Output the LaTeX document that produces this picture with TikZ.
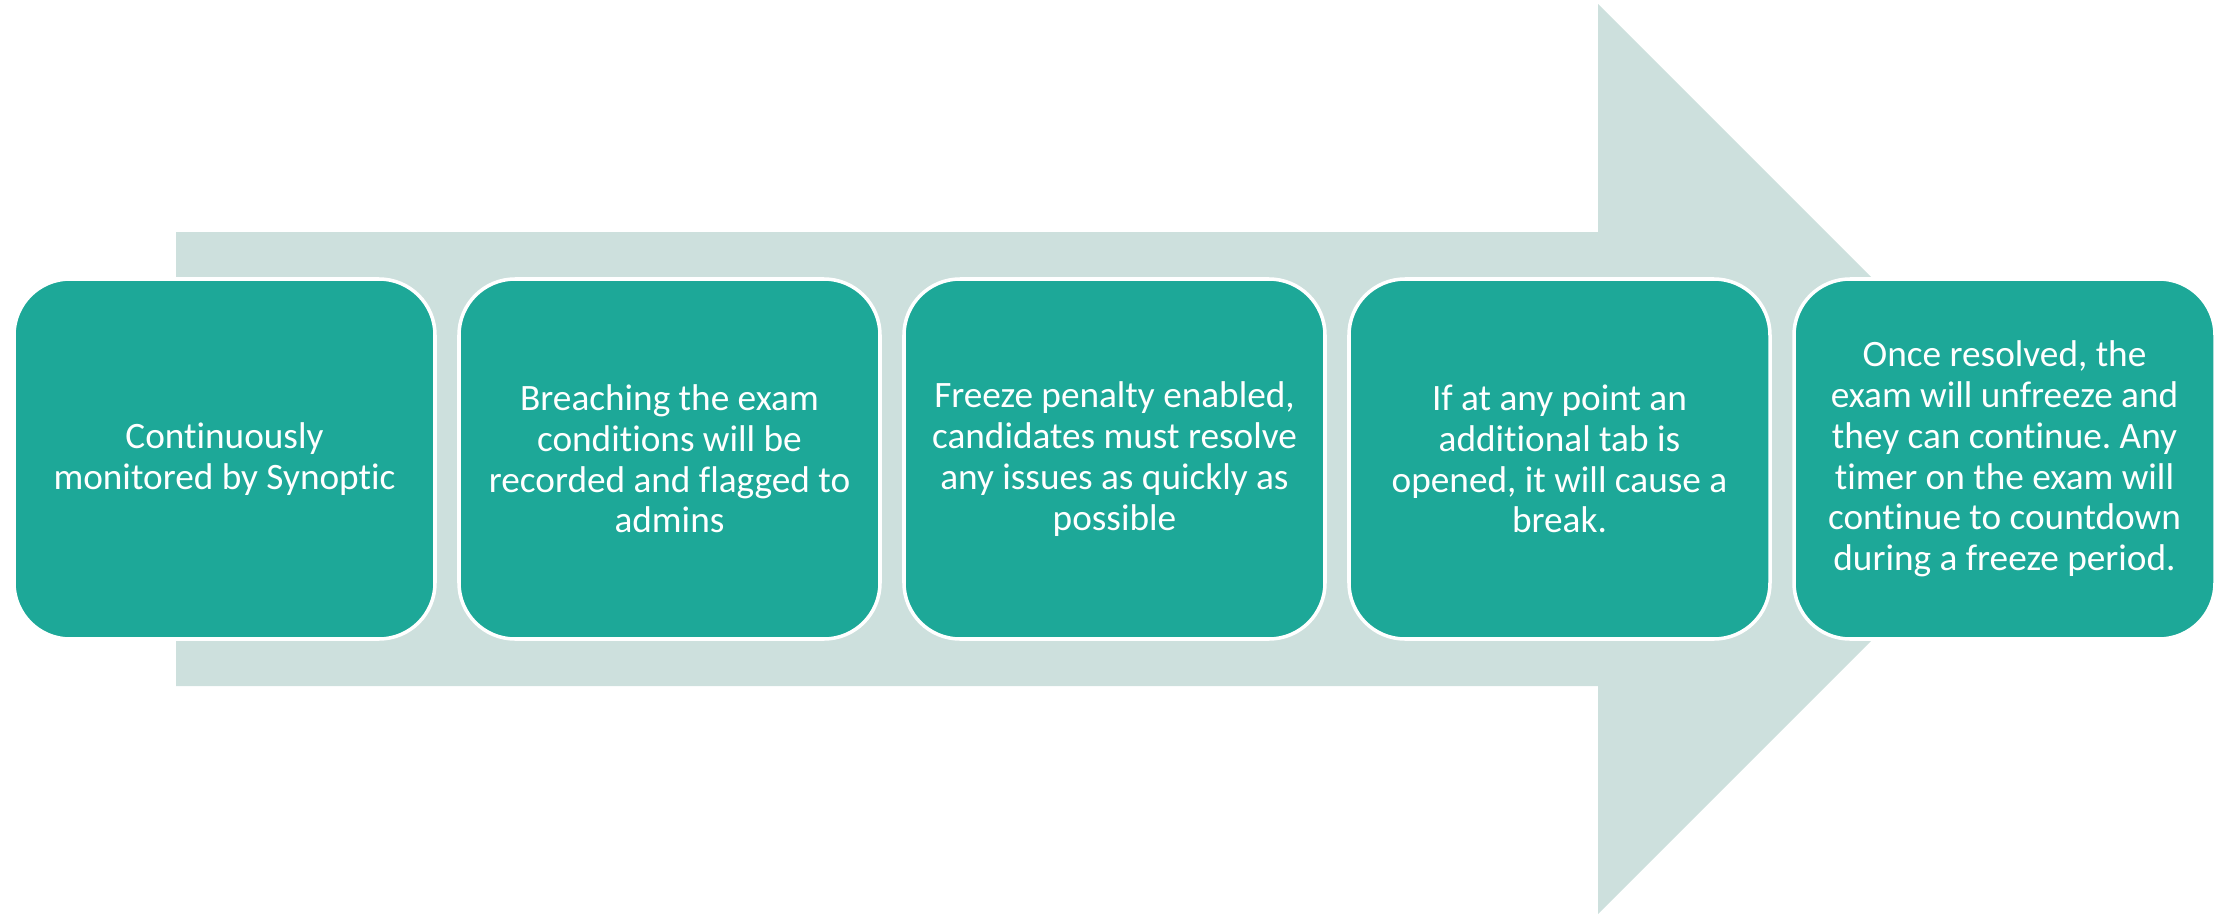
\documentclass[tikz,border=0pt]{standalone}
\usepackage{fontspec}
\setmainfont[Ligatures=NoCommon]{Carlito}
\definecolor{stepteal}{RGB}{29,168,152}
\definecolor{arrowgrey}{RGB}{205,224,221}
\tikzset{
  stepbox/.style={rectangle, rounded corners=0.56cm, fill=stepteal, draw=white,
    line width=1pt, minimum width=4.21cm, minimum height=3.6cm, inner sep=0pt,
    text=white, align=center, font=\fontsize{10.6}{11.6}\selectfont}
}
\frenchspacing

\begin{document}
\begin{tikzpicture}
\useasboundingbox (0,0) rectangle (22.24,9.14);
% big background arrow
\fill [arrowgrey] (1.76,2.28) -- (1.76,6.82) -- (15.98,6.82) -- (15.98,9.10)
  -- (20.53,4.55) -- (15.98,0.00) -- (15.98,2.28) -- cycle;
% steps
\node[stepbox] (monitor) at (2.245,4.55) {Continuously\\monitored by Synoptic};
\node[stepbox] (breach) at (6.695,4.55) {Breaching the exam\\conditions will be\\recorded and flagged to\\admins};
\node[stepbox] (freeze) at (11.145,4.55) {Freeze penalty enabled,\\candidates must resolve\\any issues as quickly as\\possible};
\node[stepbox] (newtab) at (15.595,4.55) {If at any point an\\additional tab is\\opened, it will cause a\\break.};
\node[stepbox] (resolved) at (20.045,4.55) {Once resolved, the\\exam will unfreeze and\\they can continue. Any\\timer on the exam will\\continue to countdown\\during a freeze period.};
\end{tikzpicture}
\end{document}
